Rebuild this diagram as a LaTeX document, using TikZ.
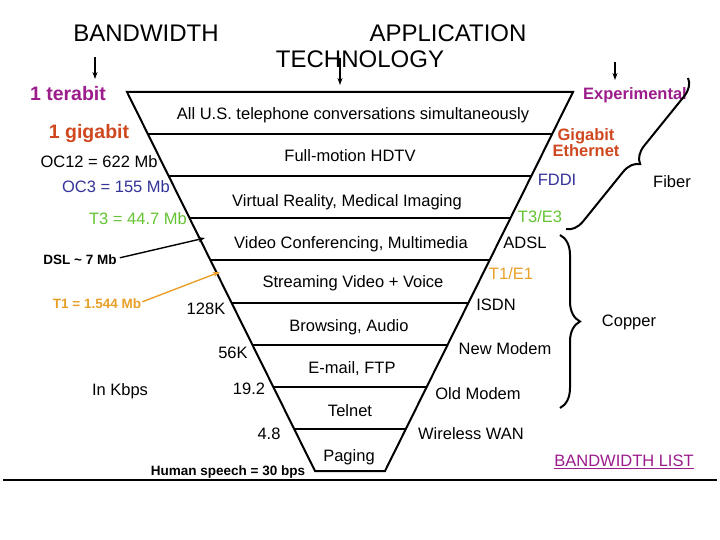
\documentclass[tikz,border=0pt]{standalone}
\usepackage{fontspec}
\setmainfont{Liberation Sans}
\usetikzlibrary{arrows.meta,calc,decorations.pathreplacing}
\definecolor{cpurple}{RGB}{156,28,140}
\definecolor{cred}{RGB}{208,72,32}
\definecolor{cblue}{RGB}{51,51,153}
\definecolor{cgreen}{RGB}{102,196,51}
\definecolor{corange}{RGB}{232,160,40}
\begin{document}
\begin{tikzpicture}[x=1pt,y=-1pt,
  lbl/.style={inner sep=0pt,anchor=mid,yshift=-3.5pt,font=\fontsize{16.5}{18}\selectfont},
  big/.style={inner sep=0pt,anchor=mid,yshift=-4.5pt,font=\fontsize{24}{26}\selectfont},
  bigb/.style={inner sep=0pt,anchor=mid,yshift=-3.5pt,font=\fontsize{19.5}{22}\selectfont\bfseries},
  medb/.style={inner sep=0pt,anchor=mid,yshift=-3.5pt,font=\fontsize{16.5}{16}\selectfont\bfseries},
  smb/.style={inner sep=0pt,anchor=mid,yshift=-3pt,font=\fontsize{13.5}{16}\selectfont\bfseries},
  funnel/.style={line width=2pt,line join=miter},
  tarrow/.style={line width=1.4pt,-{Stealth[length=7pt,width=5pt]}},
  brc/.style={line width=2pt,decorate},
]
\useasboundingbox[fill=white] (0,0) rectangle (720,540);

% titles
\node[big] (bw) at (146,34) {BANDWIDTH};
\node[big] (app) at (448,34) {APPLICATION};
\node[big] (tech) at (360,60) {TECHNOLOGY};
\coordinate (a1s) at (95,57);  \coordinate (a1e) at (95,79);
\coordinate (a2s) at (340,58); \coordinate (a2e) at (340,85);
\coordinate (a3s) at (615,62); \coordinate (a3e) at (615,80);
\draw[tarrow] (a1s) -- (a1e);
\draw[tarrow] (a2s) -- (a2e);
\draw[tarrow] (a3s) -- (a3e);

% funnel
\coordinate (TL) at (127,92);
\coordinate (TR) at (573,92);
\coordinate (BL) at (315,471);
\coordinate (BR) at (385,471);
\draw[funnel] (TL) -- (TR) -- (BR) -- (BL) -- cycle;
\foreach \k in {1,...,8}{
  \draw[funnel] ($(TL)!\k/9!(BL)$) -- ($(TR)!\k/9!(BR)$);
}

% band texts
\node[lbl] (b1) at (353,113) {All U.S. telephone conversations simultaneously};
\node[lbl] (b2) at (350,155) {Full-motion HDTV};
\node[lbl] (b3) at (347,200) {Virtual Reality, Medical Imaging};
\node[lbl] (b4) at (351,242) {Video Conferencing, Multimedia};
\node[lbl] (b5) at (353,281) {Streaming Video + Voice};
\node[lbl] (b6) at (349,325) {Browsing, Audio};
\node[lbl] (b7) at (352,367) {E-mail, FTP};
\node[lbl] (b8) at (350,410) {Telnet};
\node[lbl] (b9) at (349,455) {Paging};

% left labels
\node[bigb,text=cpurple] (tera) at (68,94) {1 terabit};
\node[bigb,text=cred] (giga) at (89,132) {1 gigabit};
\node[lbl] (oc12) at (99,161) {OC12 = 622 Mb};
\node[lbl,text=cblue] (oc3) at (116,186) {OC3 = 155 Mb};
\node[lbl,text=cgreen] (t3) at (138,218) {T3 = 44.7 Mb};
\node[smb] (dsl) at (80,259) {DSL \textasciitilde{} 7 Mb};
\node[smb,text=corange] (t1) at (97,303) {T1 = 1.544 Mb};
\node[lbl] (k128) at (206,308) {128K};
\node[lbl] (k56) at (233,352) {56K};
\node[lbl] (kbps) at (120,389) {In Kbps};
\node[lbl] (k19) at (249,388) {19.2};
\node[lbl] (k48) at (269,433) {4.8};
\node[smb] (human) at (228,470) {Human speech = 30 bps};

\coordinate (dslTip) at (205,238);
\coordinate (t1Tip) at (220,272);
\draw[tarrow] ($(dsl.east)+(3,-2)$) -- (dslTip);
\draw[tarrow,draw=corange] ($(t1.east)+(1,-2)$) -- (t1Tip);

% right labels
\node[medb,text=cpurple] (exp) at (635,93) {Experimental};
\node[medb,text=cred,align=center,anchor=center,yshift=0pt] (gbe) at (586,139) {Gigabit\\Ethernet};
\node[lbl,text=cblue] (fddi) at (557,179) {FDDI};
\node[lbl,text=cgreen] (t3e3) at (540,216) {T3/E3};
\node[lbl] (adsl) at (525,242) {ADSL};
\node[lbl,text=corange] (t1e1) at (511,273) {T1/E1};
\node[lbl] (isdn) at (496,304) {ISDN};
\node[lbl] (newm) at (505,348) {New Modem};
\node[lbl] (oldm) at (478,393) {Old Modem};
\node[lbl] (wwan) at (471,433) {Wireless WAN};
\node[lbl] (fiber) at (672,181) {Fiber};
\node[lbl] (copper) at (629,320) {Copper};
\node[lbl,text=cpurple] (bwl) at (624,460) {\underline{BANDWIDTH LIST}};

% braces
\coordinate (fbT) at (688,78);
\coordinate (fbB) at (566,229);
\draw[brc,decoration={brace,amplitude=17pt}] (fbT) -- (fbB);
\coordinate (cbT) at (560,235);
\coordinate (cbB) at (560,408);
\draw[brc,decoration={brace,amplitude=20pt}] (cbT) -- (cbB);

% baseline
\coordinate (hlL) at (3,480);
\coordinate (hlR) at (717,480);
\draw[line width=2.5pt] (hlL) -- (hlR);
\end{tikzpicture}
\end{document}
